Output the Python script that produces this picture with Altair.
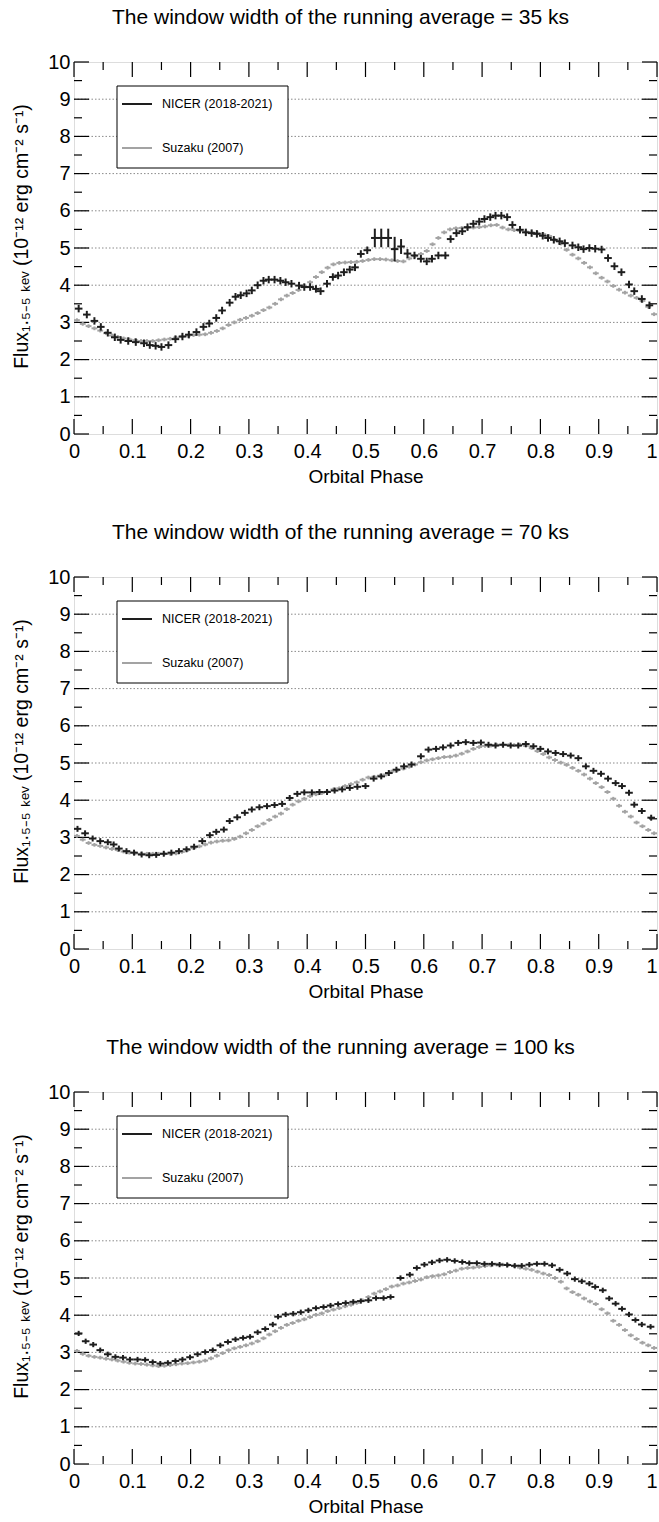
import altair as alt
import pandas as pd

FONT = "Liberation Sans, Arial, Helvetica, sans-serif"
W, H = 583, 372
BLACK = "#1e1e1e"
GRAY = "#a3a3a3"

panel_titles = [
    "The window width of the running average = 35 ks",
    "The window width of the running average = 70 ks",
    "The window width of the running average = 100 ks",
]
legend_labels = ["NICER (2018-2021)", "Suzaku (2007)"]
x_title = "Orbital Phase"
y_title = "Flux\u2081.\u2085\u208b\u2085 \u2096\u2091\u1d65 (10\u207b\u00b9\u00b2 erg cm\u207b\u00b2 s\u207b\u00b9)"

# Suzaku phase bins (centres, 0.01 wide)
suzaku_phase = [round(0.005 + 0.01 * i, 3) for i in range(100)]

# ---------------- 35 ks ----------------
n35_phase = [0.008, 0.022, 0.035, 0.046, 0.058, 0.070, 0.080, 0.093, 0.106, 0.120,
             0.130, 0.140, 0.150, 0.162, 0.174, 0.186, 0.197, 0.210, 0.222, 0.232,
             0.244, 0.254, 0.267, 0.277, 0.286, 0.296, 0.305, 0.315, 0.325, 0.334,
             0.344, 0.354, 0.363, 0.373, 0.386, 0.395, 0.405, 0.415, 0.423, 0.434,
             0.444, 0.453, 0.463, 0.473, 0.482, 0.492, 0.503, 0.516, 0.527, 0.539,
             0.550, 0.561, 0.572, 0.584, 0.595, 0.605, 0.614, 0.625, 0.637, 0.646,
             0.656, 0.666, 0.675, 0.685, 0.695, 0.704, 0.714, 0.723, 0.733, 0.743,
             0.752, 0.765, 0.775, 0.785, 0.794, 0.804, 0.813, 0.823, 0.833, 0.842,
             0.855, 0.865, 0.874, 0.884, 0.894, 0.905, 0.916, 0.927, 0.939, 0.952,
             0.961, 0.974, 0.987]
n35_flux = [3.37, 3.21, 3.04, 2.88, 2.72, 2.60, 2.53, 2.50, 2.47, 2.44,
            2.39, 2.37, 2.34, 2.39, 2.55, 2.62, 2.67, 2.74, 2.88, 2.97,
            3.12, 3.32, 3.53, 3.69, 3.73, 3.78, 3.86, 4.00, 4.12, 4.15,
            4.15, 4.12, 4.08, 4.04, 3.99, 3.95, 3.95, 3.90, 3.84, 4.04,
            4.22, 4.26, 4.35, 4.42, 4.48, 4.84, 4.94, 5.27, 5.27, 5.27,
            4.97, 5.04, 4.85, 4.80, 4.71, 4.64, 4.71, 4.80, 4.80, 5.24,
            5.40, 5.45, 5.56, 5.65, 5.71, 5.78, 5.83, 5.87, 5.87, 5.83,
            5.62, 5.49, 5.42, 5.40, 5.38, 5.33, 5.27, 5.22, 5.18, 5.13,
            5.07, 5.02, 4.97, 5.00, 4.98, 4.96, 4.73, 4.51, 4.35, 4.02,
            3.84, 3.63, 3.46]
n35_err_default = 0.10
n35_err_large = {0.516: 0.25, 0.527: 0.25, 0.539: 0.25, 0.550: 0.33, 0.561: 0.20, 0.572: 0.12}
s35_flux = [3.06, 2.96, 2.90, 2.84, 2.78, 2.71, 2.65, 2.61, 2.57, 2.54,
            2.52, 2.50, 2.50, 2.50, 2.52, 2.54, 2.56, 2.59, 2.62, 2.64,
            2.66, 2.67, 2.68, 2.72, 2.77, 2.84, 2.93, 3.00, 3.07, 3.12,
            3.18, 3.25, 3.33, 3.40, 3.50, 3.62, 3.72, 3.79, 3.87, 3.97,
            4.08, 4.22, 4.35, 4.47, 4.56, 4.60, 4.61, 4.62, 4.63, 4.65,
            4.68, 4.70, 4.70, 4.69, 4.67, 4.65, 4.64, 4.72, 4.78, 4.84,
            4.92, 5.10, 5.27, 5.42, 5.50, 5.53, 5.54, 5.54, 5.55, 5.56,
            5.58, 5.61, 5.62, 5.55, 5.50, 5.48, 5.46, 5.44, 5.42, 5.40,
            5.37, 5.32, 5.22, 5.12, 4.95, 4.82, 4.72, 4.60, 4.48, 4.32,
            4.20, 4.10, 3.98, 3.88, 3.80, 3.72, 3.66, 3.58, 3.42, 3.22]

# ---------------- 70 ks ----------------
n70_phase = [0.006, 0.019, 0.032, 0.045, 0.058, 0.068, 0.077, 0.090, 0.103, 0.116,
             0.129, 0.141, 0.154, 0.167, 0.180, 0.193, 0.206, 0.220, 0.233, 0.244,
             0.257, 0.267, 0.280, 0.293, 0.305, 0.318, 0.331, 0.344, 0.357, 0.370,
             0.383, 0.395, 0.408, 0.421, 0.434, 0.447, 0.460, 0.473, 0.486, 0.500,
             0.514, 0.527, 0.540, 0.553, 0.566, 0.579, 0.595, 0.608, 0.621, 0.633,
             0.646, 0.659, 0.672, 0.685, 0.698, 0.711, 0.723, 0.736, 0.749, 0.762,
             0.775, 0.788, 0.800, 0.813, 0.826, 0.839, 0.852, 0.865, 0.878, 0.891,
             0.904, 0.916, 0.929, 0.940, 0.952, 0.961, 0.974, 0.990]
n70_flux = [3.23, 3.11, 2.97, 2.90, 2.87, 2.81, 2.70, 2.63, 2.59, 2.54,
            2.52, 2.53, 2.56, 2.59, 2.63, 2.68, 2.75, 2.90, 3.06, 3.15,
            3.21, 3.44, 3.54, 3.66, 3.75, 3.81, 3.84, 3.87, 3.90, 4.06,
            4.17, 4.21, 4.21, 4.22, 4.22, 4.26, 4.29, 4.33, 4.36, 4.38,
            4.58, 4.64, 4.73, 4.82, 4.91, 4.96, 5.18, 5.36, 5.38, 5.42,
            5.47, 5.54, 5.56, 5.54, 5.55, 5.49, 5.47, 5.49, 5.47, 5.47,
            5.51, 5.45, 5.38, 5.31, 5.27, 5.24, 5.20, 5.13, 4.91, 4.79,
            4.71, 4.58, 4.46, 4.38, 4.20, 3.88, 3.71, 3.53]
n70_err_default = 0.08
s70_flux = [3.04, 2.94, 2.85, 2.80, 2.77, 2.73, 2.69, 2.66, 2.62, 2.59,
            2.57, 2.56, 2.56, 2.56, 2.56, 2.56, 2.56, 2.57, 2.61, 2.66,
            2.71, 2.76, 2.81, 2.86, 2.89, 2.91, 2.92, 2.96, 3.02, 3.11,
            3.20, 3.30, 3.37, 3.47, 3.56, 3.64, 3.76, 3.88, 3.97, 4.04,
            4.11, 4.16, 4.19, 4.23, 4.29, 4.32, 4.38, 4.43, 4.48, 4.55,
            4.61, 4.63, 4.66, 4.69, 4.77, 4.81, 4.85, 4.90, 4.96, 5.02,
            5.07, 5.10, 5.13, 5.16, 5.17, 5.20, 5.25, 5.31, 5.38, 5.43,
            5.46, 5.47, 5.49, 5.49, 5.48, 5.48, 5.49, 5.46, 5.40, 5.32,
            5.24, 5.15, 5.08, 5.01, 4.95, 4.87, 4.79, 4.69, 4.58, 4.46,
            4.35, 4.22, 4.04, 3.85, 3.69, 3.56, 3.40, 3.30, 3.20, 3.11]

# ---------------- 100 ks ----------------
n100_phase = [0.008, 0.020, 0.033, 0.045, 0.058, 0.071, 0.084, 0.096, 0.109, 0.122,
              0.135, 0.148, 0.161, 0.174, 0.186, 0.199, 0.212, 0.225, 0.238, 0.251,
              0.264, 0.277, 0.290, 0.302, 0.315, 0.328, 0.341, 0.350, 0.363, 0.376,
              0.389, 0.402, 0.415, 0.428, 0.440, 0.453, 0.466, 0.479, 0.492, 0.505,
              0.518, 0.531, 0.543, 0.560, 0.576, 0.588, 0.601, 0.614, 0.627, 0.640,
              0.653, 0.666, 0.678, 0.691, 0.704, 0.717, 0.730, 0.743, 0.756, 0.768,
              0.781, 0.794, 0.807, 0.820, 0.833, 0.846, 0.859, 0.871, 0.884, 0.894,
              0.907, 0.918, 0.929, 0.940, 0.952, 0.963, 0.974, 0.989]
n100_flux = [3.51, 3.30, 3.21, 3.06, 2.95, 2.88, 2.86, 2.81, 2.81, 2.80,
             2.74, 2.70, 2.72, 2.77, 2.81, 2.87, 2.95, 3.01, 3.06, 3.19,
             3.28, 3.35, 3.39, 3.42, 3.54, 3.63, 3.75, 3.96, 4.02, 4.04,
             4.08, 4.13, 4.19, 4.22, 4.26, 4.30, 4.33, 4.36, 4.38, 4.40,
             4.46, 4.46, 4.49, 5.00, 5.09, 5.27, 5.36, 5.42, 5.47, 5.49,
             5.46, 5.43, 5.40, 5.40, 5.38, 5.38, 5.36, 5.35, 5.33, 5.33,
             5.36, 5.38, 5.38, 5.34, 5.22, 5.12, 4.97, 4.91, 4.85, 4.76,
             4.67, 4.45, 4.31, 4.17, 4.02, 3.87, 3.75, 3.69]
n100_err_default = 0.07
s100_flux = [3.04, 2.96, 2.91, 2.88, 2.86, 2.83, 2.81, 2.78, 2.75, 2.72,
             2.70, 2.69, 2.67, 2.65, 2.63, 2.64, 2.66, 2.68, 2.70, 2.71,
             2.73, 2.75, 2.78, 2.84, 2.91, 2.98, 3.06, 3.11, 3.15, 3.19,
             3.24, 3.30, 3.38, 3.48, 3.57, 3.66, 3.74, 3.79, 3.85, 3.89,
             3.95, 4.01, 4.05, 4.11, 4.15, 4.19, 4.24, 4.28, 4.33, 4.40,
             4.49, 4.58, 4.64, 4.70, 4.77, 4.80, 4.85, 4.88, 4.92, 4.96,
             5.02, 5.05, 5.07, 5.10, 5.16, 5.20, 5.25, 5.27, 5.28, 5.30,
             5.32, 5.34, 5.36, 5.36, 5.35, 5.32, 5.28, 5.25, 5.22, 5.17,
             5.12, 5.08, 5.00, 4.90, 4.72, 4.62, 4.55, 4.45, 4.37, 4.30,
             4.16, 4.05, 3.85, 3.74, 3.60, 3.46, 3.36, 3.26, 3.19, 3.12]

x_major = [0, 0.1, 0.2, 0.3, 0.4, 0.5, 0.6, 0.7, 0.8, 0.9, 1.0]
x_minor = [0.05, 0.15, 0.25, 0.35, 0.45, 0.55, 0.65, 0.75, 0.85, 0.95]
y_major = [0, 1, 2, 3, 4, 5, 6, 7, 8, 9, 10]
y_minor = [0.5, 1.5, 2.5, 3.5, 4.5, 5.5, 6.5, 7.5, 8.5, 9.5]
grid_vals = [1, 2, 3, 4, 5, 6, 7, 8, 9]

S_XERR, S_YERR = 0.005, 0.05
N_XERR = 0.0065


def panel(title, nph, nfl, nerr, sfl):
    xs = alt.Scale(domain=[0, 1], nice=False, zero=False)
    ys = alt.Scale(domain=[0, 10], nice=False, zero=False)
    xa = alt.Axis(values=x_major, format=".1~f", ticks=False, tickSize=0, domain=False,
                  grid=False, labelFont=FONT, labelFontSize=20, labelColor="black",
                  labelPadding=7, labelFlush=False, labelOverlap=False,
                  labelAlign={"condition": {"test": "datum.value >= 1", "value": "right"},
                              "value": "center"},
                  title=x_title, titleFont=FONT, titleFontSize=19,
                  titleFontWeight="normal", titleColor="black", titlePadding=6)
    ya = alt.Axis(values=y_major, ticks=False, tickSize=0, domain=False, grid=False,
                  labelFont=FONT, labelFontSize=20, labelColor="black", labelPadding=4,
                  labelFlush=False, labelOverlap=False,
                  title=y_title, titleFont=FONT, titleFontSize=19.5,
                  titleFontWeight="normal", titleColor="black", titlePadding=16,
                  titleY=174)

    s = pd.DataFrame({"phase": suzaku_phase, "flux": sfl})
    s["xlo"] = s["phase"] - S_XERR
    s["xhi"] = s["phase"] + S_XERR
    s["ylo"] = s["flux"] - S_YERR
    s["yhi"] = s["flux"] + S_YERR
    n = pd.DataFrame({"phase": nph, "flux": nfl, "err": nerr})
    n["xlo"] = n["phase"] - N_XERR
    n["xhi"] = n["phase"] + N_XERR
    n["ylo"] = n["flux"] - n["err"]
    n["yhi"] = n["flux"] + n["err"]

    X = lambda f: alt.X(f"{f}:Q", scale=xs, axis=xa)
    Y = lambda f: alt.Y(f"{f}:Q", scale=ys, axis=ya)

    grid = alt.Chart(pd.DataFrame({"v": grid_vals})).mark_rule(
        color="#8a8a8a", strokeWidth=1, strokeDash=[1.5, 2]
    ).encode(y=Y("v"), x=alt.value(0), x2=alt.value(W))

    def xticks(vals, L):
        d = pd.DataFrame({"t": vals})
        bot = alt.Chart(d).mark_rule(color="black", strokeWidth=1.2).encode(
            x=X("t"), y=alt.value(H), y2=alt.value(H - L))
        top = alt.Chart(d).mark_rule(color="black", strokeWidth=1.2).encode(
            x=X("t"), y=alt.value(0), y2=alt.value(L))
        return [bot, top]

    def yticks(vals, L):
        d = pd.DataFrame({"t": vals})
        lft = alt.Chart(d).mark_rule(color="black", strokeWidth=1.2).encode(
            y=Y("t"), x=alt.value(0), x2=alt.value(L))
        rgt = alt.Chart(d).mark_rule(color="black", strokeWidth=1.2).encode(
            y=Y("t"), x=alt.value(W - L), x2=alt.value(W))
        return [lft, rgt]

    def crosses(df, color, sw):
        h = alt.Chart(df).mark_rule(color=color, strokeWidth=sw, clip=True).encode(
            x=X("xlo"), x2="xhi", y=Y("flux"))
        v = alt.Chart(df).mark_rule(color=color, strokeWidth=sw, clip=True).encode(
            x=X("phase"), y=Y("ylo"), y2="yhi")
        return [h, v]

    one = pd.DataFrame({"a": [0]})
    box = alt.Chart(one).mark_rect(fill="white", stroke="black", strokeWidth=1).encode(
        x=alt.value(43), x2=alt.value(214), y=alt.value(24), y2=alt.value(106))
    l1 = alt.Chart(one).mark_rule(color=BLACK, strokeWidth=2).encode(
        x=alt.value(48), x2=alt.value(78), y=alt.value(42))
    l2 = alt.Chart(one).mark_rule(color=GRAY, strokeWidth=2).encode(
        x=alt.value(48), x2=alt.value(78), y=alt.value(86))
    t1 = alt.Chart(one).mark_text(align="left", baseline="middle", font=FONT,
                                  fontSize=12.5, color="black").encode(
        x=alt.value(88), y=alt.value(42), text=alt.value(legend_labels[0]))
    t2 = alt.Chart(one).mark_text(align="left", baseline="middle", font=FONT,
                                  fontSize=12.5, color="black").encode(
        x=alt.value(88), y=alt.value(86), text=alt.value(legend_labels[1]))

    layers = ([grid] + xticks(x_major, 15) + xticks(x_minor, 8)
              + yticks(y_major, 15) + yticks(y_minor, 8)
              + crosses(s, GRAY, 2) + crosses(n, BLACK, 2)
              + [box, l1, l2, t1, t2])
    return alt.layer(*layers).properties(
        width=W, height=H,
        title=alt.TitleParams(text=title, font=FONT, fontSize=21, fontWeight="normal",
                              color="black", anchor="middle", dx=-25, offset=24))


n35_err = [n35_err_large.get(p, n35_err_default) for p in n35_phase]
n70_err = [n70_err_default for _ in n70_phase]
n100_err = [n100_err_default for _ in n100_phase]

p1 = panel(panel_titles[0], n35_phase, n35_flux, n35_err, s35_flux)
p2 = panel(panel_titles[1], n70_phase, n70_flux, n70_err, s70_flux)
p3 = panel(panel_titles[2], n100_phase, n100_flux, n100_err, s100_flux)

# autosize "none": canvas = 583 (shared width) + left/right padding, and
# the padding alone for the height, giving a 659 x 1522 page with the
# first plot area at (74, 62).
chart = alt.vconcat(p1, p2, p3, spacing=143, bounds="flush").properties(
    autosize=alt.AutoSizeParams(type="none"),
    padding={"left": 74, "top": 62, "right": 2, "bottom": 1460},
).configure_view(stroke="black", strokeWidth=1.5).configure(background="white")

chart.save("out.html", embed_options={"renderer": "svg", "actions": False})
